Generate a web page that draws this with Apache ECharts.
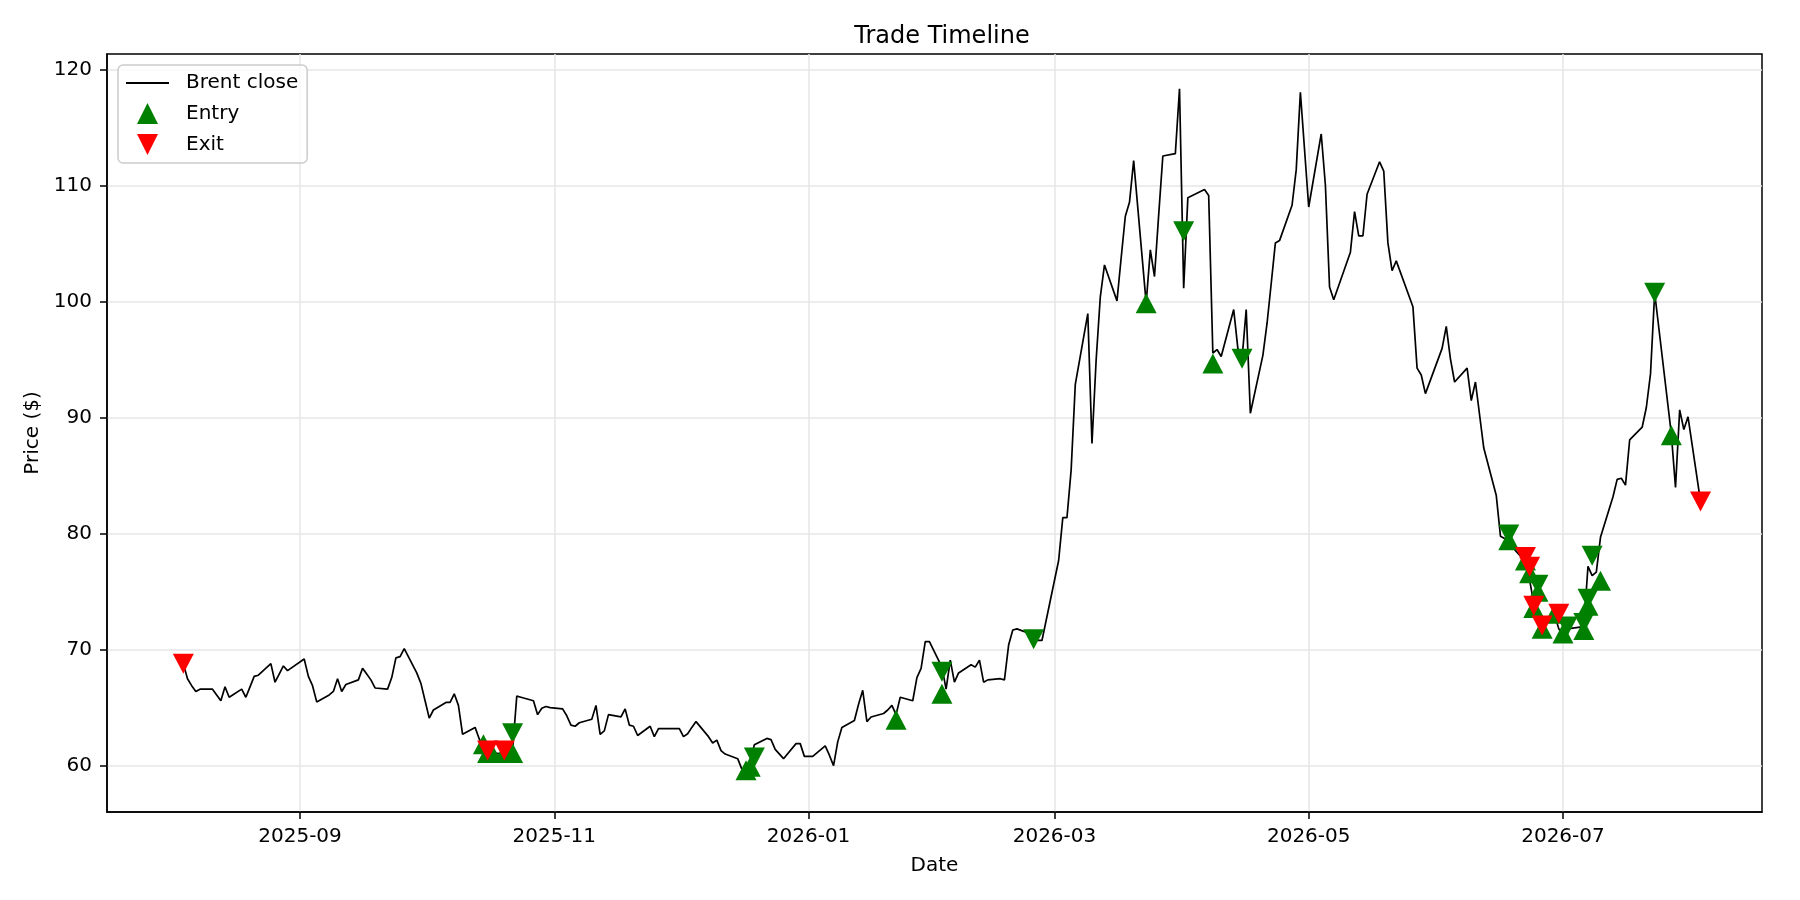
<!DOCTYPE html>
<html>
<head>
<meta charset="utf-8">
<title>Trade Timeline</title>
<script src="https://cdn.jsdelivr.net/npm/echarts@6/dist/echarts.min.js"></script>
<style>
  html, body { margin: 0; padding: 0; background: #fff; }
  #chart { width: 1800px; height: 900px; }
</style>
</head>
<body>
<div id="chart"></div>
<script>
// Brent daily close
const dates = [
  '2025-08-04','2025-08-05','2025-08-06','2025-08-07','2025-08-08','2025-08-11','2025-08-12','2025-08-13','2025-08-14','2025-08-15',
  '2025-08-18','2025-08-19','2025-08-20','2025-08-21','2025-08-22','2025-08-25','2025-08-26','2025-08-27','2025-08-28','2025-08-29',
  '2025-09-02','2025-09-03','2025-09-04','2025-09-05','2025-09-08','2025-09-09','2025-09-10','2025-09-11','2025-09-12','2025-09-15',
  '2025-09-16','2025-09-17','2025-09-18','2025-09-19','2025-09-22','2025-09-23','2025-09-24','2025-09-25','2025-09-26','2025-09-29',
  '2025-09-30','2025-10-01','2025-10-02','2025-10-03','2025-10-06','2025-10-07','2025-10-08','2025-10-09','2025-10-10','2025-10-13',
  '2025-10-14','2025-10-15','2025-10-16','2025-10-17','2025-10-20','2025-10-21','2025-10-22','2025-10-23','2025-10-24','2025-10-27',
  '2025-10-28','2025-10-29','2025-10-30','2025-10-31','2025-11-03','2025-11-04','2025-11-05','2025-11-06','2025-11-07','2025-11-10',
  '2025-11-11','2025-11-12','2025-11-13','2025-11-14','2025-11-17','2025-11-18','2025-11-19','2025-11-20','2025-11-21','2025-11-24',
  '2025-11-25','2025-11-26','2025-11-28','2025-12-01','2025-12-02','2025-12-03','2025-12-04','2025-12-05','2025-12-08','2025-12-09',
  '2025-12-10','2025-12-11','2025-12-12','2025-12-15','2025-12-16','2025-12-17','2025-12-18','2025-12-19','2025-12-22','2025-12-23',
  '2025-12-24','2025-12-26','2025-12-29','2025-12-30','2025-12-31','2026-01-02','2026-01-05','2026-01-06','2026-01-07','2026-01-08',
  '2026-01-09','2026-01-12','2026-01-13','2026-01-14','2026-01-15','2026-01-16','2026-01-19','2026-01-20','2026-01-21','2026-01-22',
  '2026-01-23','2026-01-26','2026-01-27','2026-01-28','2026-01-29','2026-01-30','2026-02-02','2026-02-03','2026-02-04','2026-02-05',
  '2026-02-06','2026-02-09','2026-02-10','2026-02-11','2026-02-12','2026-02-13','2026-02-16','2026-02-17','2026-02-18','2026-02-19',
  '2026-02-20','2026-02-23','2026-02-24','2026-02-25','2026-02-26','2026-03-02','2026-03-03','2026-03-04','2026-03-05','2026-03-06',
  '2026-03-09','2026-03-10','2026-03-11','2026-03-12','2026-03-13','2026-03-16','2026-03-17','2026-03-18','2026-03-19','2026-03-20',
  '2026-03-23','2026-03-24','2026-03-25','2026-03-26','2026-03-27','2026-03-30','2026-03-31','2026-04-01','2026-04-02','2026-04-06',
  '2026-04-07','2026-04-08','2026-04-09','2026-04-10','2026-04-13','2026-04-14','2026-04-15','2026-04-16','2026-04-17','2026-04-20',
  '2026-04-21','2026-04-22','2026-04-23','2026-04-24','2026-04-27','2026-04-28','2026-04-29','2026-05-01','2026-05-04','2026-05-05',
  '2026-05-06','2026-05-07','2026-05-11','2026-05-12','2026-05-13','2026-05-14','2026-05-15','2026-05-18','2026-05-19','2026-05-20',
  '2026-05-21','2026-05-22','2026-05-26','2026-05-27','2026-05-28','2026-05-29','2026-06-02','2026-06-03','2026-06-04','2026-06-05',
  '2026-06-08','2026-06-09','2026-06-10','2026-06-12','2026-06-15','2026-06-16','2026-06-17','2026-06-18','2026-06-22','2026-06-23',
  '2026-06-24','2026-06-25','2026-06-26','2026-06-29','2026-06-30','2026-07-01','2026-07-02','2026-07-06','2026-07-07','2026-07-08',
  '2026-07-09','2026-07-10','2026-07-13','2026-07-14','2026-07-15','2026-07-16','2026-07-17','2026-07-20','2026-07-21','2026-07-22',
  '2026-07-23','2026-07-27','2026-07-28','2026-07-29','2026-07-30','2026-07-31','2026-08-03'
];
const closes = [
  68.8, 67.5, 66.9, 66.4, 66.6, 66.6, 66.1, 65.6, 66.8, 65.9,
  66.6, 65.9, 66.8, 67.7, 67.8, 68.8, 67.2, 67.9, 68.6, 68.2,
  69.2, 67.7, 66.9, 65.5, 66.1, 66.4, 67.5, 66.4, 67.0, 67.4,
  68.4, 67.9, 67.4, 66.7, 66.6, 67.6, 69.3, 69.4, 70.1, 68.0,
  67.1, 65.6, 64.1, 64.8, 65.45, 65.45, 66.2, 65.2, 62.7, 63.3,
  62.3, 61.6, 61.2, 61.1, 61.0, 61.2, 61.4, 66.0, 65.9, 65.6,
  64.4, 64.95, 65.1, 65.0, 64.9, 64.3, 63.5, 63.4, 63.7, 64.0,
  65.2, 62.7, 63.0, 64.4, 64.2, 64.9, 63.5, 63.4, 62.6, 63.4,
  62.5, 63.2, 63.2, 63.2, 62.5, 62.75, 63.3, 63.8, 62.5, 61.95,
  62.2, 61.3, 61.0, 60.6, 59.7, 59.8, 60.4, 61.8, 62.35, 62.25,
  61.4, 60.6, 61.9, 61.9, 60.8, 60.8, 61.7, 60.9, 60.0, 62.05,
  63.3, 63.9, 65.3, 66.5, 63.8, 64.2, 64.5, 64.8, 65.2, 64.4,
  65.9, 65.6, 67.6, 68.4, 70.7, 70.7, 68.5, 66.6, 69.1, 67.2,
  68.0, 68.7, 68.5, 69.1, 67.2, 67.4, 67.5, 67.4, 70.4, 71.7,
  71.8, 71.4, 70.9, 70.8, 70.8, 77.7, 81.4, 81.4, 85.5, 92.9,
  99.0, 87.8, 95.0, 100.45, 103.2, 100.1, 103.8, 107.4, 108.6, 112.2,
  99.9, 104.5, 102.2, 107.5, 112.6, 112.8, 118.4, 101.2, 109.0, 109.7,
  109.2, 95.6, 95.9, 95.3, 99.35, 96.0, 95.1, 99.35, 90.4, 95.4,
  98.15, 101.6, 105.1, 105.3, 108.35, 111.4, 118.1, 108.2, 114.5, 110.1,
  101.3, 100.2, 104.3, 107.8, 105.7, 105.7, 109.3, 112.1, 111.3, 105.1,
  102.7, 103.55, 99.6, 94.3, 93.7, 92.1, 96.0, 97.9, 95.1, 93.1,
  94.3, 91.5, 93.1, 87.4, 83.3, 79.8, 79.6, 79.2, 77.6, 76.0,
  74.0, 72.2, 72.5, 73.0, 71.8, 71.4, 71.8, 72.0, 77.2, 76.4,
  76.7, 79.7, 83.2, 84.7, 84.8, 84.2, 88.1, 89.2, 90.9, 93.8,
  100.8, 88.6, 84.0, 90.7, 89.0, 90.1, 82.8
];

// trade markers
const entryDates = [
  '2025-10-15','2025-10-16','2025-10-17','2025-10-20','2025-10-21','2025-10-22','2025-10-22',
  '2025-12-17','2025-12-18','2025-12-19','2026-01-22','2026-02-02','2026-02-02','2026-02-24',
  '2026-03-23','2026-04-01','2026-04-08','2026-04-15','2026-06-18','2026-06-18','2026-06-22',
  '2026-06-23','2026-06-24','2026-06-25','2026-06-25','2026-06-26','2026-06-29','2026-07-01',
  '2026-07-02','2026-07-06','2026-07-06','2026-07-07','2026-07-07','2026-07-08','2026-07-10',
  '2026-07-23','2026-07-27'
];
const entryPrices = [
  61.85, 61.1, 61.1, 61.1, 61.1, 61.1, 62.8,
  59.6, 59.9, 60.7, 63.95, 68.1, 66.2, 70.9,
  99.9, 106.1, 94.7, 95.1, 79.95, 79.45, 77.7,
  76.6, 73.6, 75.6, 75.0, 71.8, 73.1, 71.4,
  72.0, 72.3, 71.7, 74.4, 73.8, 78.1, 75.95,
  100.8, 88.5
];
const entrySides = [
  'long','long','long','long','long','long','short',
  'long','long','short','long','short','long','short',
  'long','short','long','short','short','long','long',
  'long','long','short','long','long','long','long',
  'short','short','long','short','long','short','long',
  'short','long'
];
const exitDates = ['2025-08-04','2025-10-16','2025-10-20','2026-06-22','2026-06-23','2026-06-24','2026-06-26','2026-06-30','2026-08-03'];
const exitPrices = [68.8, 61.3, 61.3, 78.0, 77.15, 73.8, 72.1, 73.1, 82.8];

const xTicks = ['2025-09-01','2025-11-01','2026-01-01','2026-03-01','2026-05-01','2026-07-01'];
const yTicks = [60, 70, 80, 90, 100, 110, 120];

const UP = 'path://M1,0L2,2L0,2Z';
const DOWN = 'path://M0,0L2,0L1,2Z';
const FONT = 'DejaVu Sans';

function ts(d) { return +echarts.time.parse(d); }
function pad2(n) { return n < 10 ? '0' + n : '' + n; }

var chart = echarts.init(document.getElementById('chart'));

var axisLine = { show: true, onZero: false, lineStyle: { color: '#000', width: 1.5 } };
var tickStyle = { color: '#000', width: 1.5 };
var gridLine = { show: true, lineStyle: { color: '#e6e6e6', width: 1.5 } };
var nameStyle = { fontFamily: FONT, fontSize: 20, color: '#000' };

chart.setOption({
  animation: false,
  backgroundColor: '#fff',
  textStyle: { fontFamily: FONT },
  title: {
    text: 'Trade Timeline',
    left: 937,
    top: 20,
    textAlign: 'center',
    textStyle: { fontFamily: FONT, fontSize: 24, fontWeight: 'normal', color: '#000' }
  },
  grid: {
    left: 107, right: 38, top: 54, bottom: 88,
    show: true, borderColor: '#000', borderWidth: 1.5,
    containLabel: false, outerBoundsMode: 'none'
  },
  legend: {
    orient: 'vertical',
    left: 118, top: 65,
    data: [
      { name: 'Brent close', itemStyle: { opacity: 0 } },
      { name: 'Entry' },
      { name: 'Exit' }
    ],
    itemWidth: 43, itemHeight: 21, itemGap: 10,
    padding: [8, 9, 8, 7],
    backgroundColor: 'rgba(255,255,255,0.8)',
    borderColor: '#cccccc', borderWidth: 1.5, borderRadius: 5,
    textStyle: { fontFamily: FONT, fontSize: 20, color: '#000', padding: [0, 0, 0, 12] }
  },
  xAxis: {
    type: 'value',
    min: ts('2025-07-16 16:30:00'),
    max: ts('2026-08-17 18:00:00'),
    name: 'Date',
    nameLocation: 'middle',
    nameGap: 44,
    nameTextStyle: nameStyle,
    axisLine: axisLine,
    splitLine: gridLine,
    axisTick: { show: true, inside: false, length: 7, lineStyle: tickStyle, customValues: xTicks.map(ts) },
    axisLabel: {
      customValues: xTicks.map(ts),
      margin: 15,
      fontFamily: FONT, fontSize: 20, color: '#000',
      formatter: function (v) { var d = new Date(v); return d.getFullYear() + '-' + pad2(d.getMonth() + 1); }
    }
  },
  yAxis: {
    type: 'value',
    min: 56.0,
    max: 121.4,
    name: 'Price ($)',
    nameLocation: 'middle',
    nameGap: 62,
    nameTextStyle: nameStyle,
    axisLine: axisLine,
    splitLine: gridLine,
    axisTick: { show: true, inside: false, length: 7, lineStyle: tickStyle, customValues: yTicks },
    axisLabel: { customValues: yTicks, margin: 15, fontFamily: FONT, fontSize: 20, color: '#000' }
  },
  series: [
    {
      name: 'Brent close',
      type: 'line',
      data: dates.map(function (d, i) { return [ts(d), closes[i]]; }),
      showSymbol: false,
      symbol: 'none',
      color: '#000',
      lineStyle: { color: '#000', width: 1.7 },
      z: 2
    },
    {
      name: 'Entry',
      type: 'scatter',
      symbol: UP,
      symbolSize: [21, 20],
      itemStyle: { color: '#008000', opacity: 1 },
      data: entryDates.map(function (d, i) {
        return { value: [ts(d), entryPrices[i]], symbol: entrySides[i] === 'long' ? UP : DOWN };
      }),
      z: 3
    },
    {
      name: 'Exit',
      type: 'scatter',
      symbol: DOWN,
      symbolSize: [21, 20],
      itemStyle: { color: '#ff0000', opacity: 1 },
      data: exitDates.map(function (d, i) { return [ts(d), exitPrices[i]]; }),
      z: 4
    }
  ]
});
</script>
</body>
</html>
